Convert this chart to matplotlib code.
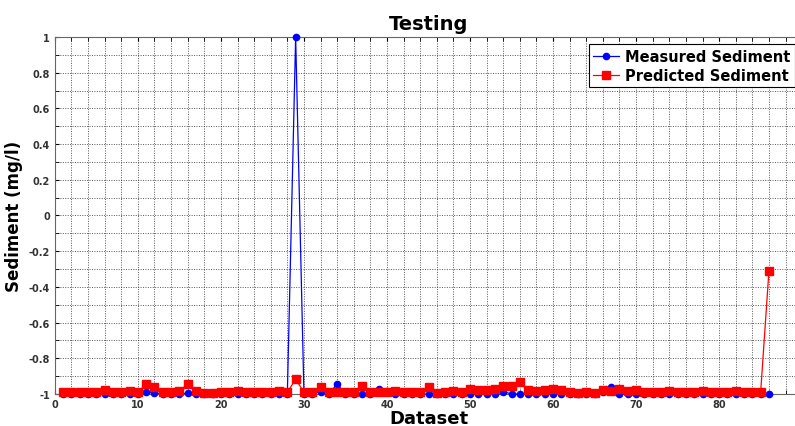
import numpy as np
import matplotlib.pyplot as plt
from matplotlib.ticker import MultipleLocator

# dataset index 1..86
dataset = np.arange(1, 87)

measured = [-1.0] * 86
for idx, val in {11: -0.991, 12: -0.994, 16: -0.995, 29: 1.0, 32: -0.987,
                 34: -0.944, 39: -0.972, 40: -0.983, 54: -0.987, 66: -0.987,
                 67: -0.963}.items():
    measured[idx - 1] = val

predicted = [-0.991, -0.987, -0.987, -0.987, -0.991, -0.978, -0.987, -0.987, -0.983, -0.991,
             -0.944, -0.963, -0.987, -0.991, -0.983, -0.944, -0.983, -0.994, -0.994, -0.987,
             -0.987, -0.983, -0.991, -0.991, -0.991, -0.991, -0.983, -0.991, -0.916, -0.991,
             -0.991, -0.963, -0.991, -0.991, -0.987, -0.991, -0.953, -0.991, -0.987, -0.991,
             -0.983, -0.991, -0.991, -0.991, -0.963, -0.994, -0.991, -0.983, -0.987, -0.972,
             -0.978, -0.978, -0.972, -0.953, -0.953, -0.935, -0.978, -0.983, -0.978, -0.972,
             -0.978, -0.987, -0.994, -0.987, -0.994, -0.978, -0.983, -0.972, -0.983, -0.978,
             -0.987, -0.987, -0.987, -0.983, -0.991, -0.987, -0.991, -0.983, -0.991, -0.987,
             -0.991, -0.983, -0.991, -0.991, -0.991, -0.31]

xtick_vals = [0, 10, 20, 30, 40, 50, 60, 70, 80]

fig = plt.figure(figsize=(7.95, 4.27), dpi=100)
ax = fig.add_axes([0.069, 0.075, 0.94, 0.836])

ax.plot(dataset, measured, color='#0000ff', lw=0.9, marker='o', ms=4.5,
        label='Measured Sediment', clip_on=False, zorder=3)
ax.plot(dataset, predicted, color='#ff0000', lw=0.9, marker='s', ms=5.2,
        label='Predicted Sediment', clip_on=False, zorder=4)

ax.set_xlim(0, 90)
ax.set_ylim(-1, 1)
ax.set_xticks(xtick_vals)
ax.xaxis.set_minor_locator(MultipleLocator(2))
ax.yaxis.set_minor_locator(MultipleLocator(0.1))
ax.set_yticks(np.arange(-1, 1.01, 0.2))
ax.set_yticklabels(['-1', '-0.8', '-0.6', '-0.4', '-0.2', '0', '0.2', '0.4', '0.6', '0.8', '1'])

ax.grid(True, which='both', color='#222222', linestyle=(0, (1.5, 2)), lw=0.5)
ax.tick_params(which='both', direction='in', top=True, right=True, labelsize=7,
               labelcolor='#333333', length=3)
for lab in ax.get_xticklabels() + ax.get_yticklabels():
    lab.set_fontweight('bold')
for s in ax.spines.values():
    s.set_color('#666666')

ax.set_title('Testing', fontsize=14, fontweight='bold', pad=6)
ax.set_xlabel('Dataset', fontsize=13, fontweight='bold', labelpad=0)
ax.set_ylabel('Sediment (mg/l)', fontsize=12, fontweight='bold', labelpad=4)

leg = ax.legend(loc='upper right', bbox_to_anchor=(1.0, 1.0),
                prop={'weight': 'bold', 'size': 10.5}, fancybox=False,
                framealpha=1, edgecolor='black', handlelength=1.8,
                handletextpad=0.4, borderpad=0.3, labelspacing=0.3)
leg.get_frame().set_linewidth(0.8)

fig.savefig('out.png', dpi=100)
